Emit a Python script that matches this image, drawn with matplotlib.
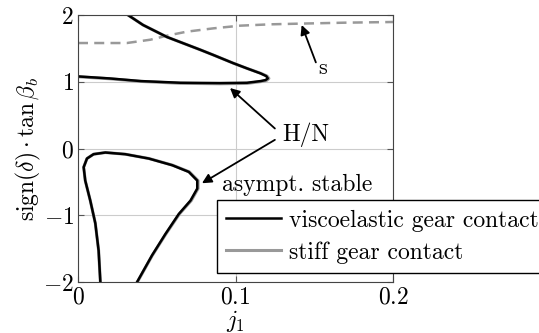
import matplotlib
matplotlib.use("Agg")
import matplotlib.pyplot as plt

plt.rcParams['font.family'] = 'cmr10'
plt.rcParams['mathtext.fontset'] = 'cm'
plt.rcParams['axes.formatter.use_mathtext'] = True

# upper H/N branch (viscoelastic)
visc_up_x = [0.0317, 0.0413, 0.0565, 0.0775, 0.086, 0.0984, 0.1073, 0.1159, 0.1195, 0.1205, 0.1190, 0.1159, 0.1073, 0.090, 0.065, 0.040, 0.020, 0.0]
visc_up_y = [2.0, 1.85, 1.67, 1.48, 1.40, 1.28, 1.20, 1.125, 1.085, 1.05, 1.025, 1.01, 0.985, 0.98, 0.985, 1.01, 1.05, 1.08]
# lower loop (viscoelastic)
visc_lo_x = [0.0142, 0.0131, 0.0110, 0.0078, 0.0046, 0.0036, 0.0057, 0.0099, 0.0174, 0.030, 0.0449, 0.0598, 0.0703, 0.0757, 0.0757, 0.0714, 0.064, 0.0555, 0.047, 0.0375]
visc_lo_y = [-2.0, -1.53, -1.12, -0.78, -0.48, -0.28, -0.15, -0.085, -0.06, -0.085, -0.15, -0.25, -0.35, -0.48, -0.60, -0.78, -0.98, -1.28, -1.60, -2.0]
# stiff gear contact
stiff_up_x = [0.0317, 0.0413, 0.0565, 0.0775, 0.086, 0.0984, 0.1073, 0.1162, 0.1200, 0.1212, 0.1197, 0.1163, 0.1073, 0.090, 0.065, 0.040, 0.020, 0.0]
stiff_up_y = [2.0, 1.85, 1.67, 1.48, 1.40, 1.28, 1.20, 1.125, 1.085, 1.05, 1.02, 1.003, 0.975, 0.97, 0.977, 1.005, 1.045, 1.075]
stiff_lo_x = [0.0142, 0.0131, 0.0110, 0.0078, 0.0046, 0.0036, 0.0057, 0.0099, 0.0174, 0.030, 0.0451, 0.0601, 0.0707, 0.0762, 0.0762, 0.0719, 0.0644, 0.0558, 0.0472, 0.0377]
stiff_lo_y = [-2.0, -1.53, -1.12, -0.78, -0.48, -0.28, -0.15, -0.085, -0.06, -0.085, -0.15, -0.25, -0.35, -0.48, -0.60, -0.78, -0.98, -1.28, -1.60, -2.0]
# s curve
s_x = [0.0, 0.031, 0.046, 0.0565, 0.069, 0.086, 0.103, 0.122, 0.14, 0.17, 0.2]
s_y = [1.58, 1.58, 1.63, 1.69, 1.75, 1.80, 1.84, 1.86, 1.87, 1.885, 1.895]

fig = plt.figure(figsize=(5.39, 3.33), dpi=100)
ax = fig.add_axes([0.1447, 0.153, 0.5845, 0.802])

ax.plot(s_x, s_y, color='#999999', lw=1.8, ls=(0, (4, 2.5)))
ax.plot(stiff_up_x, stiff_up_y, color='#999999', lw=2.2, label='stiff gear contact')
ax.plot(stiff_lo_x, stiff_lo_y, color='#999999', lw=2.2)
ax.plot(visc_up_x, visc_up_y, color='k', lw=1.8, label='viscoelastic gear contact')
ax.plot(visc_lo_x, visc_lo_y, color='k', lw=1.8)

ax.set_xlim(0, 0.2)
ax.set_ylim(-2, 2)
ax.set_xticks([0, 0.1, 0.2])
ax.set_xticklabels(['$0$', '$0.1$', '$0.2$'])
ax.set_yticks([-2, -1, 0, 1, 2])
ax.grid(True, color='#cccccc', lw=0.8)
ax.tick_params(direction='in', top=True, right=True, labelsize=17, length=4, color='#555555', pad=3)
for sp in ax.spines.values():
    sp.set_color('#444444')
ax.set_xlabel(r'$j_1$', fontsize=17, labelpad=0)
ax.set_ylabel(r'$\mathrm{sign}(\delta)\cdot\tan\beta_b$', fontsize=17, labelpad=0)

arr = dict(arrowstyle='-|>', color='k', lw=1.3, mutation_scale=14, shrinkA=0, shrinkB=0)
ax.annotate('', xy=(0.142, 1.85), xytext=(0.151, 1.29), arrowprops=arr)
ax.text(0.155, 1.2, 's', fontsize=16, ha='center', va='center')
ax.annotate('', xy=(0.0965, 0.906), xytext=(0.125, 0.30), arrowprops=arr)
ax.annotate('', xy=(0.0787, -0.52), xytext=(0.125, 0.13), arrowprops=arr)
ax.text(0.1295, 0.20, 'H/N', fontsize=17, ha='left', va='center')
ax.text(0.0916, -0.55, 'asympt. stable', fontsize=17, ha='left', va='center')

h, l = ax.get_legend_handles_labels()
leg = ax.legend(h[::-1], l[::-1], loc='lower left', bbox_to_anchor=(0.441, 0.034), fontsize=17,
                fancybox=False, edgecolor='k', framealpha=1, handlelength=2.3,
                borderpad=0.4, labelspacing=0.4, handletextpad=0.35, borderaxespad=0)
leg.get_frame().set_linewidth(1.0)

fig.savefig('out.png', dpi=100)
